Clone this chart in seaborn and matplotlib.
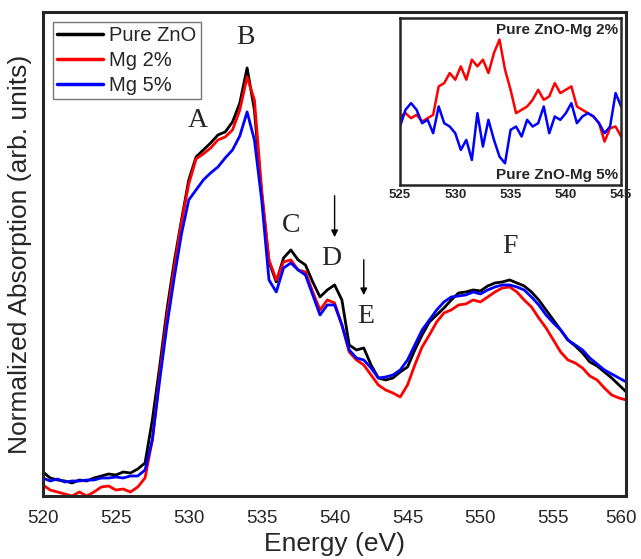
import numpy as np
import pandas as pd
import matplotlib
matplotlib.use("Agg")
import matplotlib.pyplot as plt
import matplotlib.transforms as mtransforms
import seaborn as sns

# O K-edge XANES spectra (arb. units), sampled every 0.5 eV
energy = np.arange(520, 560.5, 0.5)

pure_zno = [0.24, 0.18, 0.16, 0.15, 0.13, 0.16, 0.15, 0.18, 0.20, 0.22, 0.21, 0.24, 0.23, 0.27,
            0.33, 0.76, 1.29, 1.86, 2.34, 2.76, 3.16, 3.39, 3.46, 3.53, 3.61, 3.64, 3.74, 3.93, 4.28,
            3.86, 3.01, 2.34, 2.14, 2.38, 2.46, 2.36, 2.31, 2.14, 1.99, 2.06, 2.11, 1.96, 1.51, 1.46,
            1.48, 1.31, 1.18, 1.16, 1.18, 1.24, 1.29, 1.46, 1.61, 1.74, 1.81, 1.88, 1.96, 2.03, 2.04,
            2.06, 2.05, 2.10, 2.13, 2.14, 2.16, 2.13, 2.10, 2.04, 1.96, 1.86, 1.76, 1.66, 1.56, 1.50,
            1.43, 1.34, 1.30, 1.24, 1.18, 1.11, 1.04]

mg_2 = [0.11, 0.06, 0.04, 0.02, 0.00, 0.04, 0.00, 0.04, 0.09, 0.10, 0.06, 0.07, 0.04, 0.09,
        0.18, 0.56, 1.20, 1.78, 2.28, 2.74, 3.12, 3.37, 3.42, 3.48, 3.56, 3.59, 3.66, 3.86, 4.19,
        3.96, 3.06, 2.36, 2.16, 2.34, 2.36, 2.26, 2.24, 2.04, 1.86, 1.96, 1.93, 1.71, 1.44, 1.36,
        1.31, 1.21, 1.11, 1.06, 1.03, 0.99, 1.11, 1.31, 1.49, 1.61, 1.74, 1.83, 1.86, 1.91, 1.92,
        1.96, 1.94, 1.99, 2.04, 2.08, 2.09, 2.04, 1.96, 1.89, 1.78, 1.68, 1.56, 1.44, 1.36, 1.33,
        1.28, 1.20, 1.16, 1.08, 1.01, 0.98, 0.96]

mg_5 = [0.18, 0.15, 0.17, 0.14, 0.15, 0.15, 0.16, 0.16, 0.18, 0.18, 0.19, 0.18, 0.20, 0.20,
        0.26, 0.56, 1.15, 1.70, 2.18, 2.62, 2.96, 3.06, 3.16, 3.23, 3.29, 3.38, 3.46, 3.60, 3.84,
        3.56, 2.96, 2.16, 2.04, 2.28, 2.33, 2.26, 2.21, 2.01, 1.81, 1.91, 1.91, 1.71, 1.46, 1.38,
        1.36, 1.28, 1.18, 1.19, 1.21, 1.26, 1.36, 1.51, 1.66, 1.76, 1.86, 1.94, 1.99, 2.00, 2.01,
        2.04, 2.02, 2.06, 2.09, 2.11, 2.11, 2.09, 2.06, 1.99, 1.91, 1.81, 1.73, 1.66, 1.56, 1.51,
        1.46, 1.38, 1.32, 1.26, 1.22, 1.18, 1.14]

samples = ["Pure ZnO", "Mg 2%", "Mg 5%"]
colors = ["black", "red", "blue"]

# difference spectra for the inset
diff_energy = np.arange(525, 545.5, 0.5)
diff_mg2 = [0.41, 0.43, 0.40, 0.42, 0.38, 0.40, 0.42, 0.59, 0.61, 0.67, 0.63, 0.71, 0.63, 0.75,
            0.71, 0.75, 0.67, 0.79, 0.87, 0.69, 0.57, 0.43, 0.45, 0.47, 0.51, 0.57, 0.51, 0.53,
            0.61, 0.55, 0.57, 0.59, 0.47, 0.45, 0.43, 0.41, 0.37, 0.26, 0.34, 0.35, 0.29]
diff_mg5 = [0.35, 0.45, 0.49, 0.45, 0.37, 0.39, 0.31, 0.47, 0.37, 0.35, 0.31, 0.21, 0.27, 0.15,
            0.43, 0.23, 0.39, 0.27, 0.17, 0.13, 0.33, 0.35, 0.29, 0.39, 0.35, 0.37, 0.47, 0.31,
            0.41, 0.39, 0.43, 0.49, 0.37, 0.41, 0.43, 0.41, 0.37, 0.31, 0.35, 0.55, 0.47]

# peak labels
peak_labels = ["A", "B", "C", "D", "E", "F"]
peak_x = [530.6, 533.9, 537.0, 539.8, 542.1, 552.0]
peak_y = [3.75, 4.58, 2.70, 2.37, 1.79, 2.49]

sns.set_style("white")
plt.rcParams["font.family"] = ["Liberation Sans", "DejaVu Sans"]

df = pd.concat([pd.DataFrame({"Energy": energy, "Absorption": vals, "Sample": name})
                for name, vals in zip(samples, [pure_zno, mg_2, mg_5])])
df_diff = pd.concat([pd.DataFrame({"Energy": diff_energy, "Diff": vals, "Pair": name})
                     for name, vals in zip(["Mg 2%", "Mg 5%"], [diff_mg2, diff_mg5])])

fig = plt.figure(figsize=(6.41, 5.59), dpi=100)
ax = fig.add_axes([0.067, 0.1127, 0.910, 0.866])

sns.lineplot(data=df, x="Energy", y="Absorption", hue="Sample", palette=colors,
             linewidth=2.0, ax=ax, legend=False)
ax.set_xlim(520, 560)
ax.set_ylim(0, 4.84)
ax.set_xticks(np.arange(520, 561, 5))
ax.set_xticks(np.arange(522.5, 560, 5), minor=True)
ax.set_yticks([])
ax.tick_params(axis="x", which="major", direction="in", length=7, width=1.6, labelsize=13.5, pad=10)
ax.tick_params(axis="x", which="minor", direction="in", length=4, width=1.4)
for s in ax.spines.values():
    s.set_linewidth(2.2)
ax.set_xlabel("Energy (eV)", fontsize=19, labelpad=4)
ax.set_ylabel("Normalized Absorption (arb. units)", fontsize=19, labelpad=8)

# nudge the last tick label so it stays inside the figure
last = ax.get_xticklabels()[-1]
last.set_transform(last.get_transform() + mtransforms.ScaledTranslation(-4 / 72, 0, fig.dpi_scale_trans))

handles = [plt.Line2D([], [], color=c, lw=2.5) for c in colors]
leg = ax.legend(handles, samples, loc="upper left", fontsize=14.5, frameon=True, fancybox=False,
                handlelength=2.3, handletextpad=0.3, labelspacing=0.3, borderpad=0.2,
                borderaxespad=0.5)
leg.get_frame().set_edgecolor("#555555")
leg.get_frame().set_linewidth(1.0)

for lab, px, py in zip(peak_labels, peak_x, peak_y):
    ax.text(px, py, lab, fontsize=20, family="Liberation Serif", ha="center", va="center")

ax.annotate("", xy=(540.0, 2.56), xytext=(540.0, 3.03),
            arrowprops=dict(arrowstyle="-|>", color="black", lw=1.0, mutation_scale=10))
ax.annotate("", xy=(542.0, 1.98), xytext=(542.0, 2.39),
            arrowprops=dict(arrowstyle="-|>", color="black", lw=1.0, mutation_scale=10))

# inset with difference spectra
ins = fig.add_axes([0.624, 0.669, 0.345, 0.299])
sns.lineplot(data=df_diff, x="Energy", y="Diff", hue="Pair", palette=["red", "blue"],
             linewidth=1.8, ax=ins, legend=False)
ins.set_xlim(525, 545)
ins.set_ylim(0, 1)
ins.set_xticks(np.arange(525, 546, 5))
ins.set_xticks(np.arange(527.5, 545, 5), minor=True)
ins.set_yticks([])
ins.set_xlabel("")
ins.set_ylabel("")
ins.tick_params(axis="x", which="major", direction="in", length=4, width=1.2, labelsize=9.5, pad=3)
ins.tick_params(axis="x", which="minor", direction="in", length=2.5, width=1.0)
for t in ins.get_xticklabels():
    t.set_fontweight("bold")
for s in ins.spines.values():
    s.set_linewidth(1.8)
ins.text(0.985, 0.97, "Pure ZnO-Mg 2%", transform=ins.transAxes, ha="right", va="top",
         fontsize=11, fontweight="bold")
ins.text(0.985, 0.02, "Pure ZnO-Mg 5%", transform=ins.transAxes, ha="right", va="bottom",
         fontsize=11, fontweight="bold")

fig.savefig("out.png", dpi=100)
